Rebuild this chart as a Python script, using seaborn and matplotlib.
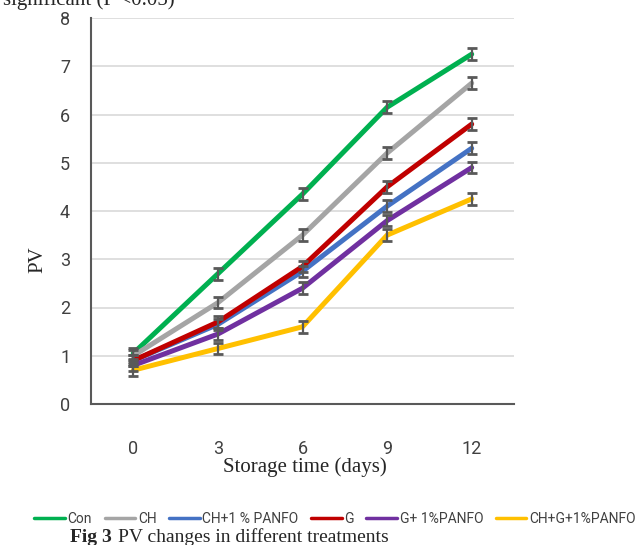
import numpy as np
import pandas as pd
import matplotlib
matplotlib.use("Agg")
import matplotlib.pyplot as plt
import seaborn as sns

# data
days = [0, 3, 6, 9, 12]
treatments = ["Con", "CH", "CH+1 % PANFO", "G", "G+ 1%PANFO", "CH+G+1%PANFO"]
con = [1.05, 2.70, 4.35, 6.15, 7.25]
ch = [1.00, 2.10, 3.50, 5.20, 6.65]
ch_panfo = [0.90, 1.65, 2.75, 4.10, 5.30]
g = [0.90, 1.70, 2.85, 4.50, 5.80]
g_panfo = [0.80, 1.45, 2.40, 3.80, 4.90]
chg_panfo = [0.70, 1.15, 1.60, 3.50, 4.25]
err = [0.12, 0.12, 0.12, 0.12, 0.12]
colors = ["#00B050", "#A5A5A5", "#4472C4", "#C00000", "#7030A0", "#FFC000"]

series = [con, ch, ch_panfo, g, g_panfo, chg_panfo]
df = pd.DataFrame({
    "day": days * len(treatments),
    "pv": np.concatenate(series),
    "err": err * len(treatments),
    "treatment": np.repeat(treatments, len(days)),
})

sns.set_style("white")
plt.rcParams["font.family"] = ["Roboto", "DejaVu Sans"]

fig = plt.figure(figsize=(6.39, 5.45), dpi=100)
ax = fig.add_axes([91 / 639, 1 - 404 / 545, 423 / 639, 386 / 545])

sns.lineplot(data=df, x="day", y="pv", hue="treatment", palette=colors,
             hue_order=treatments, linewidth=3.6, ax=ax, legend=False, zorder=3)
for name in treatments:
    sub = df[df.treatment == name]
    ax.errorbar(sub.day, sub.pv, yerr=sub.err, fmt="none", ecolor="#595959",
                elinewidth=1.6, capsize=3.5, capthick=2, zorder=4)

ax.set_xlim(-1.5, 13.5)
ax.set_ylim(0, 8)
ax.set_xticks(days)
ax.set_yticks(range(0, 9))
ax.yaxis.grid(True, color="#D9D9D9", linewidth=1.2)
ax.set_axisbelow(True)
for s in ["top", "right"]:
    ax.spines[s].set_visible(False)
for s in ["left", "bottom"]:
    ax.spines[s].set_color("#595959")
    ax.spines[s].set_linewidth(1.5)
ax.tick_params(axis="y", length=0, pad=15, labelsize=13, labelcolor="#404040")
ax.tick_params(axis="x", length=0, pad=26, labelsize=13, labelcolor="#404040")
ax.set_xlabel("")
ax.set_ylabel("")

serif = ["Liberation Serif", "DejaVu Serif"]
fig.text(305 / 639, 1 - 467 / 545, "Storage time (days)", ha="center", va="center",
         fontsize=15, family=serif)
fig.text(38 / 639, 1 - 260 / 545, "PV", rotation=90, ha="center", va="center",
         fontsize=15, family=serif)
fig.text(175 / 639, 1.0, "significant (P <0.05)", ha="right", va="center",
         fontsize=15, family=serif)

handles = [plt.Line2D([], [], color=c, linewidth=2.5) for c in colors]
leg = fig.legend(handles, treatments, loc="center", bbox_to_anchor=(335 / 639, 1 - 519 / 545),
                 ncol=6, frameon=False, fontsize=10, handlelength=2.2, handletextpad=0.2,
                 columnspacing=0.9)
for t in leg.get_texts():
    t.set_color("#404040")

fig.text(70 / 639, 1 - 537 / 545, "Fig 3", ha="left", va="center", fontsize=14,
         family=serif, weight="bold")
fig.text(118 / 639, 1 - 537 / 545, "PV changes in different treatments", ha="left",
         va="center", fontsize=14, family=serif)

fig.savefig("out.png", dpi=100)
